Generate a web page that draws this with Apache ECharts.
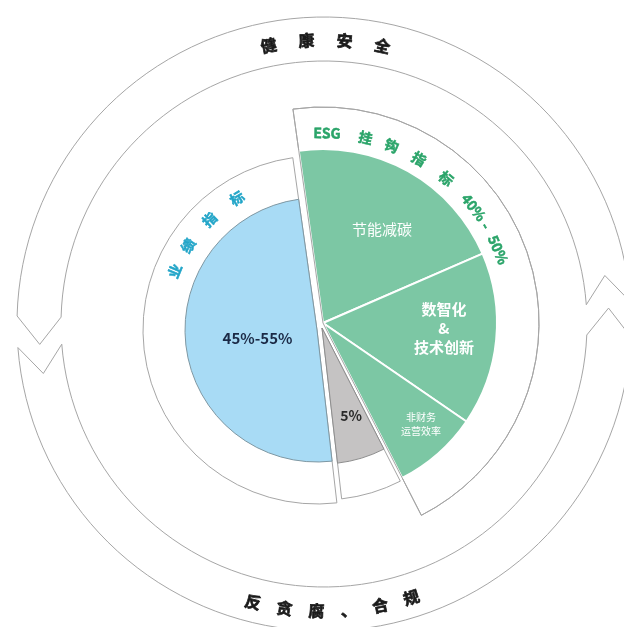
<!DOCTYPE html>
<html>
<head>
<meta charset="utf-8">
<script src="https://cdn.jsdelivr.net/npm/echarts@6/dist/echarts.min.js"></script>
<style>
html, body { margin: 0; padding: 0; background: #fff; }
#main { width: 624px; height: 627px; }
</style>
</head>
<body>
<div id="main"></div>
<script>
// slice shares (% of the pie)
var esgNames = ['节能减碳', '数智化\n&\n技术创新', '非财务\n运营效率'];
var esgValues = [20.7, 16.1, 7.9];
var otherLabel = '5%';
var otherValue = 5.7;
var perfLabel = '45%-55%';
var perfValue = 49.6;

// curved titles
var esgTitle = ['ESG', '挂', '钩', '指', '标', '40%', '-', '50%'];
var perfTitle = ['业', '绩', '指', '标'];
var topRing = ['健', '康', '安', '全'];
var bottomRing = ['反', '贪', '腐', '、', '合', '规'];

// outer arrows: [tail bearing, head bearing], degrees clockwise from 12 o'clock
var ringArrows = [[85.8, -88.5], [265.6, 92.4]];

// ---- layout ----
var RING_C = [324, 324];
var ESG_C = [323, 323];
var PERF_C = [317, 330];
var OTHER_C = [322, 328];
var START = 98;
var LINE = '#a6a6a6';
var FONT = '"Noto Sans CJK SC", "Noto Sans", sans-serif';

var esgTotal = esgValues.reduce(function (a, b) { return a + b; }, 0);
var HIDE = { color: 'rgba(0,0,0,0)', borderWidth: 0 };

function pie(center, radius, data) {
	return {
		type: 'pie',
		center: center,
		radius: radius,
		startAngle: START,
		clockwise: true,
		silent: true,
		animation: false,
		avoidLabelOverlap: false,
		selectedMode: false,
		label: { show: false },
		labelLine: { show: false },
		data: data
	};
}

// group data: [esg, other, perf]; only the chosen one is visible
function groupData(which, style) {
	var vals = [esgTotal, otherValue, perfValue];
	var names = ['ESG', otherLabel, perfLabel];
	return vals.map(function (v, i) {
		return { name: names[i], value: v, itemStyle: i === which ? style : HIDE };
	});
}

var band = { color: '#fff', borderColor: LINE, borderWidth: 1 };
var outline = { color: 'rgba(0,0,0,0)', borderColor: LINE, borderWidth: 1 };

var esgSlices = esgValues.map(function (v, i) {
	return { name: esgNames[i], value: v, itemStyle: { color: '#7cc7a4', borderColor: '#fff', borderWidth: 2 } };
}).concat([
	{ name: otherLabel, value: otherValue, itemStyle: HIDE },
	{ name: perfLabel, value: perfValue, itemStyle: HIDE }
]);

// text helpers
function at(center, r, bearing) {
	var a = bearing * Math.PI / 180;
	return [center[0] + r * Math.sin(a), center[1] - r * Math.cos(a)];
}
function txt(center, r, bearing, text, st, rot) {
	var p = at(center, r, bearing);
	return {
		type: 'text',
		x: p[0],
		y: p[1],
		rotation: rot || 0,
		z: 100,
		silent: true,
		style: {
			text: text,
			fill: st.fill,
			font: st.font,
			lineHeight: st.lineHeight,
			stroke: st.heavy ? st.fill : null,
			lineWidth: st.heavy || 0,
			align: 'center',
			verticalAlign: 'middle',
			textAlign: 'center',
			textVerticalAlign: 'middle'
		}
	};
}
function arcChars(center, r, bearings, chars, st, flip) {
	return chars.map(function (c, i) {
		var b = bearings[i];
		var rot = flip ? -(b - 180) * Math.PI / 180 : -b * Math.PI / 180;
		return txt(center, r, b, c, st, rot);
	});
}
function spread(mid, step, n) {
	var out = [];
	for (var i = 0; i < n; i++) out.push(mid + (i - (n - 1) / 2) * step);
	return out;
}

var graphics = [];
graphics = graphics
	.concat(arcChars(RING_C, 284, spread(0.3, 7.7, topRing.length), topRing,
		{ fill: '#1a1a1a', font: 'bold 16px ' + FONT, heavy: 0.7 }))
	.concat(arcChars(RING_C, 287, spread(178.3, -6.4, bottomRing.length), bottomRing,
		{ fill: '#1a1a1a', font: 'bold 16px ' + FONT, heavy: 0.7 }, true))
	.concat(arcChars(ESG_C, 190, [1.2, 12.9, 21.2, 30.3, 40.5, 52.5, 59.2, 67.3], esgTitle,
		{ fill: '#2aa469', font: 'bold 14px ' + FONT, heavy: 0.5 }))
	.concat(arcChars(PERF_C, 154, [292.5, 303.2, 315.8, 328.7], perfTitle,
		{ fill: '#22a5c8', font: 'bold 14px ' + FONT, heavy: 0.5 }))
	.concat([
		txt(ESG_C, 111, 32.1, esgNames[0], { fill: '#fff', font: '15px ' + FONT }),
		txt(ESG_C, 121, 92.4, esgNames[1], { fill: '#fff', font: 'bold 15px ' + FONT, lineHeight: 19 }),
		txt(ESG_C, 141, 135.9, esgNames[2], { fill: '#fff', font: '10px ' + FONT, lineHeight: 14 }),
		txt(OTHER_C, 92, 161.6, otherLabel, { fill: '#2a2a2a', font: 'bold 14px ' + FONT }),
		txt(PERF_C, 60, 262.3, perfLabel, { fill: '#1b2a46', font: 'bold 15px ' + FONT })
	]);

var chart = echarts.init(document.getElementById('main'));

chart.setOption({
	backgroundColor: '#fff',
	animation: false,
	polar: { center: RING_C, radius: [0, 307] },
	angleAxis: { type: 'value', min: 0, max: 360, startAngle: 90, clockwise: true, show: false },
	radiusAxis: { type: 'value', min: 0, max: 307, show: false },
	series: [
		{
			type: 'custom',
			coordinateSystem: 'polar',
			silent: true,
			data: ringArrows,
			renderItem: function (params, api) {
				var tail = api.value(0), head = api.value(1);
				var r0 = 263, r1 = 307, rm = (r0 + r1) / 2, cut = 5.6, n = 72;
				function pt(r, a) { a = ((a % 360) + 360) % 360; return api.coord([r, a]); }
				var pts = [];
				for (var i = 0; i <= n; i++) pts.push(pt(r1, tail + (head - tail) * i / n));
				pts.push(pt(rm, head - cut));
				for (var j = n; j >= 0; j--) pts.push(pt(r0, tail + (head - tail) * j / n));
				pts.push(pt(rm, tail - cut));
				return {
					type: 'polygon',
					shape: { points: pts },
					style: { fill: '#fff', stroke: LINE, lineWidth: 1 }
				};
			}
		},
		// white bands behind each group
		pie(ESG_C, [0, 216], groupData(0, band)),
		pie(PERF_C, [0, 174], groupData(2, band)),
		pie(OTHER_C, [0, 172], groupData(1, band)),
		// slices
		pie(PERF_C, [0, 132], groupData(2, { color: '#a8dbf5', borderColor: '#7f98a3', borderWidth: 1 })),
		pie(OTHER_C, [0, 136], groupData(1, { color: '#c5c3c3', borderColor: '#8e8e8e', borderWidth: 1 })),
		pie(ESG_C, [0, 174], esgSlices),
		pie(ESG_C, [0, 216], groupData(0, outline))
	],
	graphic: { elements: graphics }
});
</script>
</body>
</html>
